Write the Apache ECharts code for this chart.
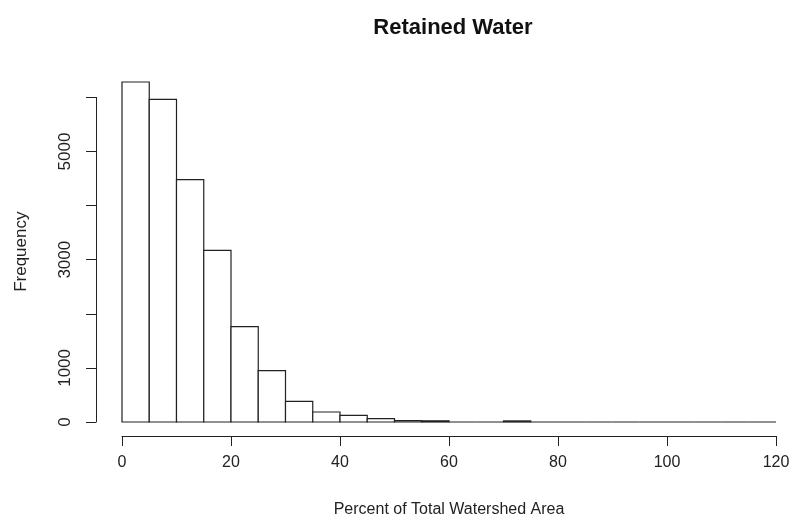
<!DOCTYPE html>
<html>
<head>
<meta charset="utf-8">
<script src="https://cdn.jsdelivr.net/npm/echarts@6/dist/echarts.min.js"></script>
<style>html,body{margin:0;padding:0;background:#fff}#c{width:796px;height:525px}</style>
</head>
<body>
<div id="c"></div>
<script>
// Histogram data (bin breaks and counts)
const binLower = [0,5,10,15,20,25,30,35,40,45,50,55,60,65,70,75,80,85,90,95,100,105,110,115];
const binUpper = [5,10,15,20,25,30,35,40,45,50,55,60,65,70,75,80,85,90,95,100,105,110,115,120];
const counts   = [6285,5965,4480,3174,1763,950,383,185,124,63,25,22,0,0,20,0,0,0,0,0,0,0,0,0];
const xTicks = [0,20,40,60,80,100,120];
const yLabelled = [0,1000,3000,5000];
const titleText = 'Retained Water';
const xName = 'Percent of Total Watershed Area';
const yName = 'Frequency';

const data = binLower.map((l, i) => [l, binUpper[i], counts[i]]);
const FONT = 'Liberation Sans, Arial, sans-serif';
const ink = '#222';

const chart = echarts.init(document.getElementById('c'));
chart.setOption({
  animation: false,
  backgroundColor: '#fff',
  title: {
    text: titleText, left: 448, top: 12, textAlign: 'center',
    textStyle: {fontFamily: FONT, fontWeight: 'bold', fontSize: 22, color: '#111'}
  },
  grid: {left: 122, right: 20, top: 97.4, bottom: 103},
  xAxis: {
    type: 'value', min: 0, max: 120, interval: 20, offset: 14,
    name: xName, nameLocation: 'middle', nameGap: 66,
    nameTextStyle: {fontFamily: FONT, fontSize: 16, color: ink},
    axisLine: {show: true, onZero: false, lineStyle: {color: ink, width: 1}},
    axisTick: {show: true, length: 10, lineStyle: {color: ink}},
    axisLabel: {fontFamily: FONT, fontSize: 16, color: ink, margin: 19,
      formatter: v => xTicks.includes(v) ? String(v) : ''},
    splitLine: {show: false}
  },
  yAxis: {
    type: 'value', min: 0, max: 6000, interval: 1000, offset: 26,
    name: yName, nameLocation: 'middle', nameGap: 66,
    nameTextStyle: {fontFamily: FONT, fontSize: 17, color: ink, padding: [0, 0, 0, 16]},
    axisLine: {show: true, onZero: false, lineStyle: {color: ink, width: 1}},
    axisTick: {show: true, length: 10, lineStyle: {color: ink}},
    axisLabel: {fontFamily: FONT, fontSize: 17, color: ink, margin: 22, rotate: 90,
      formatter: v => yLabelled.includes(v) ? String(v) : ''},
    splitLine: {show: false}
  },
  series: [{
    type: 'custom',
    clip: false,
    data: data,
    encode: {x: [0, 1], y: 2},
    renderItem: function (params, api) {
      const p0 = api.coord([api.value(0), api.value(2)]);
      const p1 = api.coord([api.value(1), 0]);
      return {
        type: 'rect',
        shape: {x: p0[0], y: p0[1], width: p1[0] - p0[0], height: p1[1] - p0[1]},
        style: {fill: '#fff', stroke: ink, lineWidth: 1.2}
      };
    }
  }]
});
</script>
</body>
</html>
